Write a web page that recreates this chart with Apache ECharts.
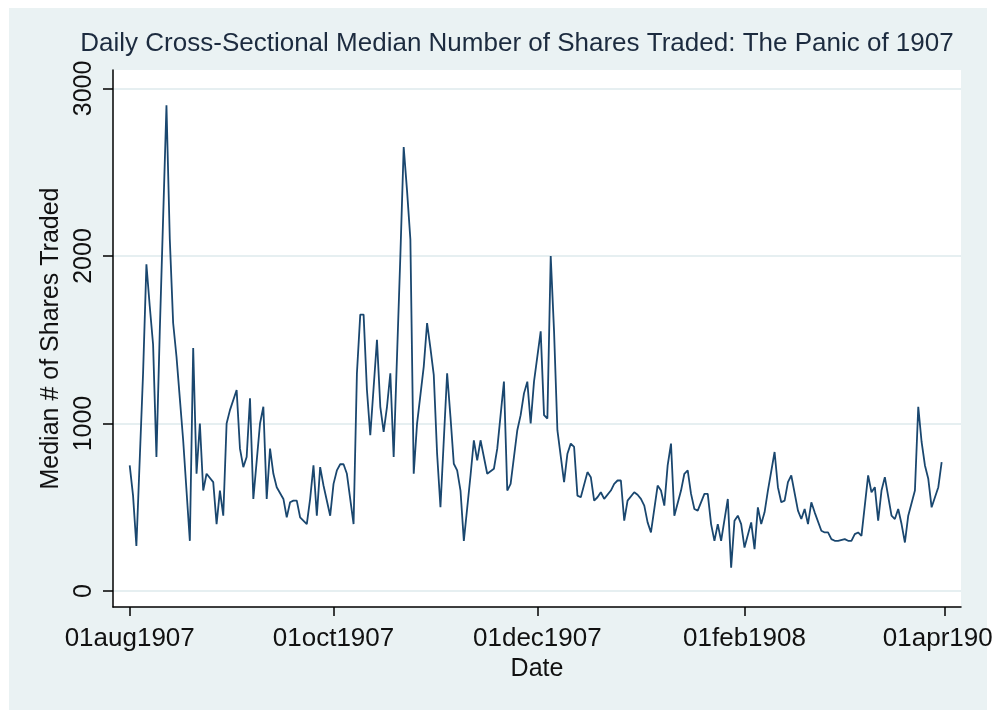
<!DOCTYPE html>
<html>
<head>
<meta charset="utf-8">
<title>Panic of 1907 - median shares traded</title>
<script src="https://cdn.jsdelivr.net/npm/echarts@6/dist/echarts.min.js"></script>
<style>
    html, body { margin: 0; padding: 0; background: #fff; }
    #chart { width: 992px; height: 710px; }
</style>
</head>
<body>
<div id="chart"></div>
<script>
    // median # of shares traded, one value per trading day (Sundays closed)
    var aug1907 = [750, 570, 270, 1300, 1950, 1700, 1470, 800, 1550, 2900, 2100, 1600, 1400, 1150, 900,
        300, 1450, 700, 1000, 600, 700, 650, 400, 600, 450, 1000, 1080];
    var sep1907 = [1200, 850, 740, 800, 1150, 550, 1000, 1100, 550, 850, 700, 620, 550, 440, 530,
        540, 540, 440, 400, 550, 750, 450, 740, 630, 450];
    var oct1907 = [640, 720, 757, 757, 700, 400, 1300, 1650, 1650, 1200, 930, 1500, 1100, 950, 1100,
        1300, 800, 2000, 2650, 2390, 2100, 700, 1000, 1340, 1600, 1450, 1290];
    var nov1907 = [820, 500, 1300, 1040, 760, 720, 600, 300, 690, 900, 780, 900, 800, 700, 730,
        850, 1050, 1250, 600, 640, 960, 1050, 1180, 1250, 1000, 1250];
    var dec1907 = [1550, 1050, 1030, 2000, 1550, 960, 650, 820, 880, 860, 570, 560, 710, 680, 540,
        560, 590, 550, 600, 640, 660, 660, 420, 540, 590, 575];
    var jan1908 = [550, 510, 410, 350, 630, 600, 510, 750, 880, 450, 600, 700, 720, 580, 490,
        480, 580, 580, 400, 300, 400, 300, 550, 140, 420, 450, 400];
    var feb1908 = [260, 410, 250, 500, 400, 470, 600, 830, 620, 530, 540, 650, 690, 480, 430,
        490, 400, 530, 470, 360, 350, 350, 310, 300, 300];
    var mar1908 = [310, 300, 300, 340, 350, 330, 690, 590, 620, 420, 600, 680, 450, 430, 490,
        400, 290, 450, 600, 1100, 890, 750, 670, 500, 620, 770];

    var tickDates = ['1907-08-01', '1907-10-01', '1907-12-01', '1908-02-01', '1908-04-01'];
    var yTicks = [0, 1000, 2000, 3000];
    var monthNames = ['jan', 'feb', 'mar', 'apr', 'may', 'jun', 'jul', 'aug', 'sep', 'oct', 'nov', 'dec'];

    var values = [].concat(aug1907, sep1907, oct1907, nov1907, dec1907, jan1908, feb1908, mar1908);

    // trading calendar: every day from 01aug1907 that is not a Sunday
    var seriesData = [];
    var day = new Date(Date.UTC(1907, 7, 1));
    var k = 0;
    while (k < values.length) {
        if (day.getUTCDay() !== 0) {
            seriesData.push([day.getTime(), values[k]]);
            k++;
        }
        day = new Date(day.getTime() + 86400000);
    }

    var tickTimes = tickDates.map(function (s) { return Date.parse(s + 'T00:00:00Z'); });

    function stataDate(v) {
        var d = new Date(v);
        var dd = d.getUTCDate();
        return (dd < 10 ? '0' : '') + dd + monthNames[d.getUTCMonth()] + d.getUTCFullYear();
    }

    var font = 'Liberation Sans, Arial, sans-serif';
    var myChart = echarts.init(document.getElementById('chart'));
    var option = {
        animation: false,
        backgroundColor: '#fff',
        textStyle: { fontFamily: font },
        graphic: [{
            type: 'rect',
            z: -10,
            shape: { x: 9, y: 8, width: 978, height: 702 },
            style: { fill: '#eaf2f3' }
        }],
        title: {
            text: 'Daily Cross-Sectional Median Number of Shares Traded: The Panic of 1907',
            left: 512,
            top: 26,
            textAlign: 'center',
            textStyle: { fontFamily: font, fontSize: 26, fontWeight: 'normal', color: '#1c2b3f' }
        },
        grid: {
            left: 113, right: 31, top: 70, bottom: 103,
            containLabel: false,
            outerBoundsMode: 'none',
            show: true, backgroundColor: '#fff', borderWidth: 0
        },
        xAxis: {
            // dates as milliseconds on a plain value scale
            type: 'value',
            min: Date.UTC(1907, 6, 27),
            max: Date.UTC(1908, 3, 5, 19),
            name: 'Date',
            nameLocation: 'middle',
            nameGap: 45,
            nameTextStyle: { fontFamily: font, fontSize: 25, color: '#111' },
            axisLine: { show: true, onZero: false, lineStyle: { color: '#000', width: 1.5 } },
            axisTick: { show: true, length: 9, customValues: tickTimes, lineStyle: { color: '#000', width: 1.5 } },
            axisLabel: {
                customValues: tickTimes,
                formatter: stataDate,
                margin: 19,
                hideOverlap: false,
                fontFamily: font, fontSize: 26, color: '#111'
            },
            splitLine: { show: false }
        },
        yAxis: {
            type: 'value',
            min: -95,
            max: 3110,
            name: 'Median # of Shares Traded',
            nameLocation: 'middle',
            nameGap: 29,
            nameTextStyle: { fontFamily: font, fontSize: 25, color: '#111' },
            axisLine: { show: true, lineStyle: { color: '#000', width: 1.5 } },
            axisTick: { show: true, length: 10, customValues: yTicks, lineStyle: { color: '#000', width: 1.5 } },
            axisLabel: {
                customValues: yTicks,
                formatter: function (v) { return String(v); },
                rotate: 90,
                margin: 16,
                fontFamily: font, fontSize: 25, color: '#111'
            },
            splitLine: { show: true, lineStyle: { color: '#e6eff1', width: 2 } }
        },
        series: [{
            type: 'line',
            data: seriesData,
            showSymbol: false,
            lineStyle: { color: '#1a476f', width: 1.8 },
            itemStyle: { color: '#1a476f' }
        }]
    };
    myChart.setOption(option);
</script>
</body>
</html>
